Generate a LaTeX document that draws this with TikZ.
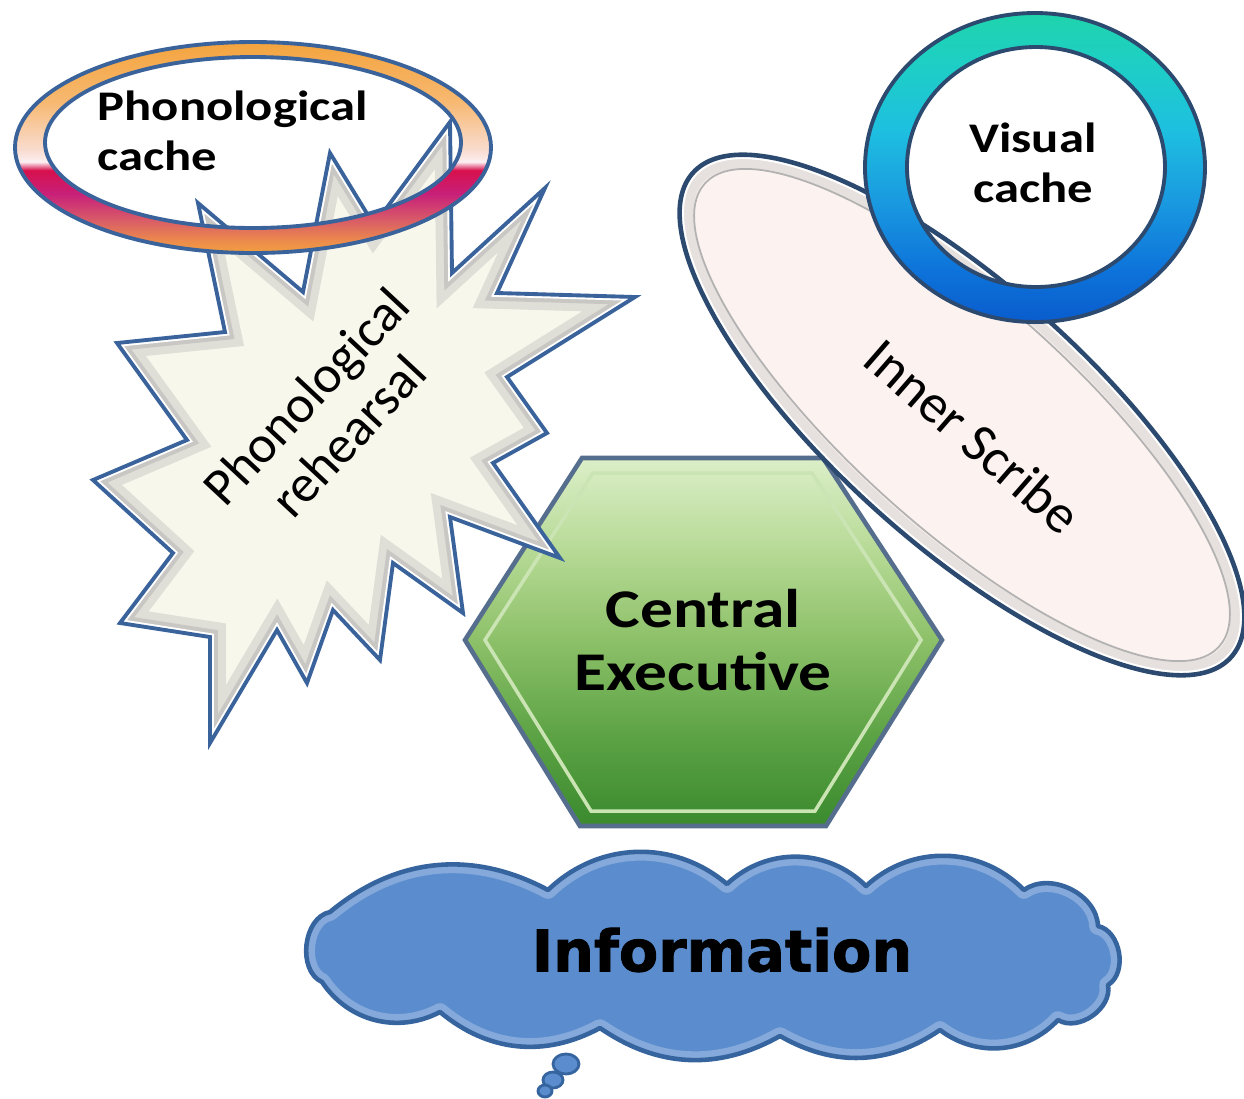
\documentclass[tikz,border=0pt]{standalone}
\usepackage{fontspec}
\usepackage{xcolor}
\setmainfont{Carlito}
\newfontfamily\heavyfont[FakeBold=1.5]{DejaVu Sans Bold}
\newcommand{\wdtxt}[1]{\scalebox{1.2}[1]{#1}}

\definecolor{edgeblue}{HTML}{3A639B}
\definecolor{darkedge}{HTML}{2C4A70}
\definecolor{starfill}{HTML}{F8F7EC}
\definecolor{scribefill}{HTML}{FCF2F0}
\definecolor{cloudfill}{HTML}{5B8DCE}
\definecolor{cloudedge}{HTML}{36649F}
% ring around the phonological cache
\definecolor{pha}{HTML}{F2A040}
\definecolor{phb}{HTML}{EC8A4C}
\definecolor{phc}{HTML}{D85A68}
\definecolor{phd}{HTML}{C8207A}
\definecolor{phe}{HTML}{D7104C}
\definecolor{phf}{HTML}{FBEFF2}
\definecolor{phg}{HTML}{F9DCD0}
\definecolor{phh}{HTML}{F7B870}
\definecolor{phi}{HTML}{F4A43E}
\pgfdeclareverticalshading{phonoring}{100bp}{color(0bp)=(pha); color(25bp)=(pha);
  color(28bp)=(phb); color(33bp)=(phc); color(39bp)=(phd); color(44.6bp)=(phe);
  color(46.6bp)=(phf); color(49.4bp)=(phg); color(61bp)=(phh); color(75bp)=(phi);
  color(100bp)=(phi)}
% ring around the visual cache
\definecolor{via}{HTML}{0A5CCC}
\definecolor{vib}{HTML}{0D72DA}
\definecolor{vic}{HTML}{1A9BE0}
\definecolor{vid}{HTML}{1EBFE0}
\definecolor{vie}{HTML}{1ECFC4}
\definecolor{vif}{HTML}{1FD3AC}
\pgfdeclareverticalshading{visualring}{100bp}{color(0bp)=(via); color(25bp)=(via);
  color(33bp)=(vib); color(45bp)=(vic); color(56bp)=(vid); color(67bp)=(vie);
  color(75bp)=(vif); color(100bp)=(vif)}
% hexagon
\definecolor{hxa}{HTML}{3A8A2E}
\definecolor{hxb}{HTML}{5BA244}
\definecolor{hxc}{HTML}{8CC068}
\definecolor{hxd}{HTML}{B5D994}
\definecolor{hxe}{HTML}{DCEFC8}
\pgfdeclareverticalshading{hexshade}{100bp}{color(0bp)=(hxa); color(25bp)=(hxa);
  color(37bp)=(hxb); color(50bp)=(hxc); color(62bp)=(hxd); color(75bp)=(hxe);
  color(100bp)=(hxe)}

\newcommand{\starpath}{(198,203) -- (303,292) -- (330,153) -- (374,225) -- (450,122)
  -- (452,273) -- (545,188) -- (497,293) -- (635,297) -- (507,377) -- (547,433)
  -- (493,463) -- (560,558) -- (450,517) -- (463,613) -- (393,563) -- (380,660)
  -- (333,610) -- (307,683) -- (277,630) -- (210,743) -- (210,637) -- (120,623)
  -- (173,553) -- (93,480) -- (187,440) -- (117,343) -- (225,332) -- cycle}
\newcommand{\scribepath}{(962,415) ellipse [x radius=362, y radius=128]}
\newcommand{\cloudpath}{(330,912) to[bend left=34] (548,890) to[bend left=42] (727,884)
  to[bend left=44] (866,886) to[bend left=44] (1024,890) to[bend left=62] (1098,926)
  to[bend left=68] (1108,985) to[bend left=66] (1058,1020) to[bend left=42] (940,1030)
  to[bend left=32] (780,1036) to[bend left=32] (600,1028) to[bend left=34] (440,1012)
  to[bend left=42] (322,982) to[bend left=72] (330,912) -- cycle}

\tikzset{
  boldlbl/.style={inner sep=0pt, font=\bfseries\fontsize{12}{14.4}\selectfont},
  plainlbl/.style={inner sep=0pt, align=center},
  ringline/.style={draw=edgeblue, line width=1.1pt},
}

\begin{document}
\begin{tikzpicture}[x=0.01cm, y=-0.01cm]
  \fill[white] (0,0) rectangle (1244,1099);
  \useasboundingbox (0,0) rectangle (1244,1099);

  % Central executive
  \shadedraw[shading=hexshade, draw=darkedge!80, line width=1.3pt]
    (465,640) -- (582,458) -- (823,458) -- (942,640) -- (826,826) -- (580,826) -- cycle;
  \draw[hxd!70!white, line width=1pt]
    (485,640) -- (593,473) -- (812,473) -- (921,640) -- (815,811) -- (591,811) -- cycle;
  \node[boldlbl, align=center, font=\bfseries\fontsize{15.5}{18}\selectfont]
    (exec) at (703,640) {\wdtxt{Central}\\\wdtxt{Executive}};

  % rehearsal star
  \fill[starfill] \starpath;
  \begin{scope}
    \clip \starpath;
    \draw[black!30, opacity=.35, line width=9pt, line join=miter] \starpath;
    \draw[black!35, opacity=.4, line width=4.5pt, line join=miter] \starpath;
    \draw[white, line width=2.2pt, line join=miter] \starpath;
  \end{scope}
  \draw[edgeblue, line width=1.1pt, line join=miter] \starpath;
  \node[plainlbl, rotate=47, font=\fontsize{15}{16.5}\selectfont]
    (rehearsal) at (327,416) {Phonological\\rehearsal};

  % phonological cache
  \shadedraw[shading=phonoring, even odd rule, ringline]
    (253,147.5) ellipse [x radius=238, y radius=105.5]
    (253,142.5) ellipse [x radius=208, y radius=85.5];
  \node[boldlbl, anchor=west, align=left] (phono) at (97,131)
    {\wdtxt{Phonological}\\\wdtxt{cache}};

  % inner scribe
  \begin{scope}[rotate around={-42:(962,415)}]
    \fill[scribefill] \scribepath;
    \begin{scope}
      \clip \scribepath;
      \draw[black!25, opacity=.35, line width=8pt] \scribepath;
      \draw[white, line width=2.5pt] \scribepath;
    \end{scope}
    \draw[black!30, line width=.5pt] (962,415) ellipse [x radius=346, y radius=112];
    \draw[darkedge, line width=1.3pt] \scribepath;
  \end{scope}
  \node[plainlbl, rotate=-41, font=\fontsize{15.5}{18}\selectfont]
    (scribe) at (973,436) {Inner Scribe};

  % visual cache
  \shadedraw[shading=visualring, even odd rule, draw=darkedge, line width=1.1pt]
    (1035,167.5) ellipse [x radius=170, y radius=154.5]
    (1036,167) ellipse [x radius=129, y radius=120];
  \node[boldlbl, align=center] (visual) at (1033,163) {\wdtxt{Visual}\\\wdtxt{cache}};

  % information cloud
  \fill[cloudfill] \cloudpath;
  \begin{scope}
    \clip \cloudpath;
    \draw[white, opacity=.25, line width=5pt, line join=round] \cloudpath;
  \end{scope}
  \draw[cloudedge, line width=1.3pt, line join=round] \cloudpath;
  \foreach \cx/\cy/\rx/\ry in {566/1064/13/10, 553/1080/10/8, 545/1091/7/6}
    \filldraw[fill=cloudfill, draw=cloudedge, line width=.8pt]
      (\cx,\cy) ellipse [x radius=\rx, y radius=\ry];
  \node[inner sep=0pt, font=\heavyfont\fontsize{16.3}{18}\selectfont]
    (info) at (722,950) {Information};
\end{tikzpicture}
\end{document}
